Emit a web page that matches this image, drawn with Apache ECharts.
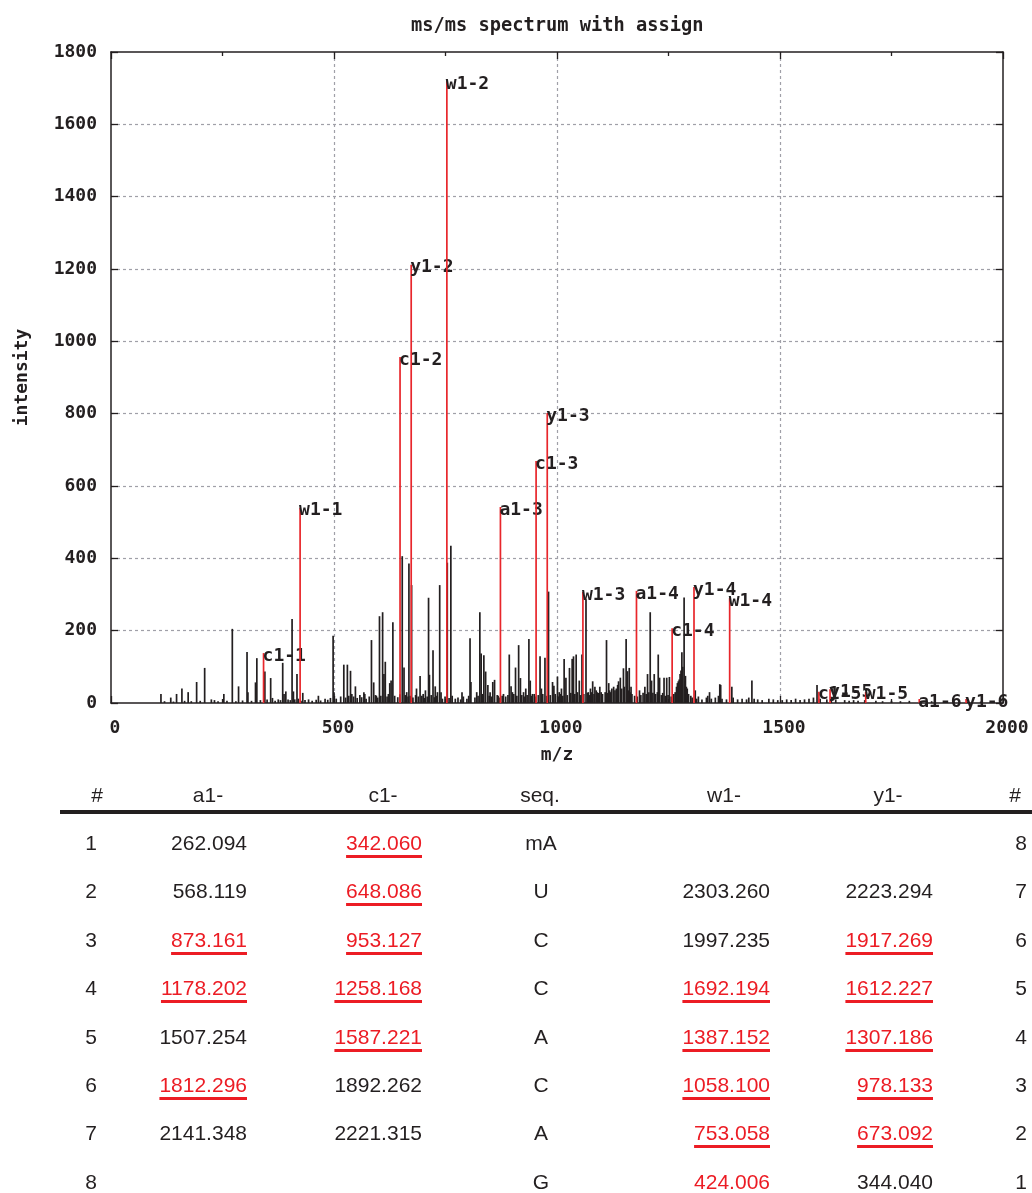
<!DOCTYPE html>
<html><head><meta charset="utf-8">
<script src="https://cdn.jsdelivr.net/npm/echarts@6/dist/echarts.min.js"></script>
<style>
html,body{margin:0;padding:0;background:#fff;width:1032px;height:1193px;overflow:hidden;}
#chart{position:absolute;left:0;top:0;width:1032px;height:770px;}
#table{position:absolute;left:0;top:0;width:1032px;height:1193px;font-family:'Liberation Sans',Arial,Helvetica,sans-serif;font-size:21px;color:#231f20;pointer-events:none;}
.c{position:absolute;line-height:24px;height:24px;white-space:nowrap;}
.red{color:#ec1c24;text-decoration:underline;text-decoration-color:#ec1c24;text-decoration-thickness:3px;text-underline-offset:5px;text-decoration-skip-ink:none;}
</style></head><body>
<div id="chart"></div><div id="table"></div>
<script>
// ---------------- DATA ----------------
const titleText = 'ms/ms spectrum with assign';
const xAxisName = 'm/z';
const yAxisName = 'intensity';

// unassigned (black) peaks, main
const mainMz = [112,134,147,159,173,192,210,225,253,272,286,305,307,324,327,345,358,362,385,388,392,406,409,417,430,465,498,500,522,530,537,540,548,558,567,569,584,589,595,602,609,612,615,625,628,632,653,657,663,668,674,685,693,700,705,712,714,722,727,732,737,740,754,762,787,805,807,820,827,830,836,840,845,850,856,860,868,880,893,897,900,907,914,918,925,930,937,940,945,962,965,973,981,990,993,1001,1005,1010,1016,1020,1028,1034,1037,1043,1050,1056,1065,1070,1075,1080,1085,1090,1096,1111,1116,1120,1130,1138,1142,1149,1155,1158,1162,1166,1185,1197,1203,1209,1212,1218,1227,1230,1240,1246,1252,1262,1272,1276,1280,1285,1288,1292,1310,1342,1365,1367,1392,1437,1583];
const mainInt = [25,15,25,40,30,58,97,10,25,205,46,141,30,57,124,87,69,14,111,25,32,232,32,80,28,20,186,30,106,106,89,25,46,22,30,25,174,57,20,240,251,80,114,55,62,223,406,98,30,386,326,40,75,25,35,291,78,146,46,30,326,30,388,435,30,179,58,30,251,137,132,87,50,30,58,64,20,25,134,46,30,98,160,69,30,40,177,62,25,129,40,125,308,58,48,73,30,40,122,70,97,122,129,134,62,134,287,30,40,60,45,30,45,174,55,30,35,60,70,96,177,88,97,45,35,45,80,251,62,80,134,70,70,70,72,25,60,80,140,292,75,40,35,30,52,50,45,62,50];

// unassigned (black) peaks, small background
const grassMz = [120,140,165,180,200,232,240,260,280,295,315,335,350,368,375,380,397,402,412,420,426,435,443,451,460,470,480,486,492,505,515,526,533,544,552,562,572,579,593,598,605,619,622,636,643,648,660,666,671,677,683,689,697,703,709,718,725,730,743,749,758,765,772,778,784,790,798,802,816,823,833,848,853,866,872,877,885,890,903,910,921,928,933,943,949,952,958,968,977,985,996,1003,1008,1013,1023,1031,1040,1046,1053,1060,1068,1073,1078,1083,1088,1093,1099,1102,1108,1113,1118,1123,1127,1133,1136,1145,1151,1160,1164,1168,1174,1180,1188,1193,1200,1206,1215,1221,1225,1234,1237,1243,1249,1256,1265,1268,1270,1274,1278,1282,1287,1290,1295,1300,1303,1313,1317,1325,1335,1338,1346,1355,1362,1370,1380,1395,1405,1415,1425,1430,1442,1450,1460,1475,1485,1495,1505,1515,1525,1535,1545,1555,1565,1575,1590,1605,1615,1625,1645,1655,1665,1675,1690,1715,1730,1750,1770,1790,1815,1840,1870,1890,1920,1950,1980];
const grassInt = [5,4,6,5,6,8,5,6,5,7,6,8,10,6,10,8,10,8,10,12,6,8,10,6,9,7,12,9,14,12,18,15,20,18,14,16,12,18,22,15,20,18,25,20,16,24,22,18,20,15,22,18,20,14,18,22,16,20,12,18,14,20,12,15,10,18,12,20,15,20,25,20,18,22,15,20,18,22,25,20,22,18,22,20,25,18,22,25,20,22,25,18,25,20,22,28,25,30,22,25,28,22,30,25,35,28,30,25,30,28,35,40,45,40,50,40,45,35,30,25,20,18,22,28,25,30,28,25,30,22,28,20,22,18,30,45,55,65,90,100,60,45,25,20,15,12,18,10,15,20,12,15,20,12,10,15,10,12,10,15,12,10,8,12,10,8,8,10,8,12,8,10,12,15,12,10,8,10,8,6,8,6,8,6,5,6,5,6,5,5,4,5,4,4,3];

// assigned (red) peaks
const assignedLabels = ['c1-1','w1-1','c1-2','y1-2','w1-2','a1-3','c1-3','y1-3','w1-3','a1-4','c1-4','y1-4','w1-4','c1-5','y1-5','w1-5','a1-6','y1-6'];
const assignedMz = [342.060,424.006,648.086,673.092,753.058,873.161,953.127,978.133,1058.100,1178.202,1258.168,1307.186,1387.152,1587.221,1612.227,1692.194,1812.296,1917.269];
const assignedInt = [138,540,957,1212,1720,542,669,802,307,310,207,321,290,31,38,31,11,11];

// table
const tableHeaders = ['#','a1-','c1-','seq.','w1-','y1-','#'];
const seqResidues = ['mA','U','C','C','A','C','A','G'];
const a1Mass = ['262.094','568.119','873.161','1178.202','1507.254','1812.296','2141.348',''];
const c1Mass = ['342.060','648.086','953.127','1258.168','1587.221','1892.262','2221.315',''];
const w1Mass = ['','2303.260','1997.235','1692.194','1387.152','1058.100','753.058','424.006'];
const y1Mass = ['','2223.294','1917.269','1612.227','1307.186','978.133','673.092','344.040'];

// ---------------- CHART ----------------
const mono = "'DejaVu Sans Mono','Liberation Mono',monospace";
const ink = '#231f20';
const red = '#e8262b';
const monoStyle = {fontFamily: mono, fontWeight: 'bold', fontSize: 18, color: ink};
const plainNum = v => String(v);

const blackData = mainMz.map((m,i)=>[m, mainInt[i]]).concat(grassMz.map((m,i)=>[m, grassInt[i]]));
const redData = assignedMz.map((m,i)=>[m, assignedInt[i], i]);

function axisCommon(){
  return {
    type: 'value',
    axisLine: {show: true, onZero: false, lineStyle: {color: ink, width: 1.5}},
    axisTick: {show: true, inside: true, length: 7, lineStyle: {color: ink, width: 1.3}},
  };
}

const chart = echarts.init(document.getElementById('chart'), null, {renderer: 'canvas'});
chart.setOption({
  animation: false,
  backgroundColor: '#fff',
  title: {text: titleText, left: 406, top: 12, textStyle: {fontFamily: mono, fontWeight: 'bold', fontSize: 18.7, color: ink}},
  grid: {left: 111, right: 29, top: 52, bottom: 67, outerBoundsMode: 'none'},
  xAxis: [
    Object.assign(axisCommon(), {
      min: 0, max: 2000, interval: 500, position: 'bottom',
      name: xAxisName, nameLocation: 'middle', nameGap: 43, nameTextStyle: monoStyle,
      minorTick: {show: true, splitNumber: 2, length: 4, lineStyle: {color: ink, width: 1.3}},
      axisLabel: Object.assign({margin: 16, padding: [0,0,0,8], formatter: plainNum}, monoStyle),
      splitLine: {show: true, showMinLine: false, showMaxLine: false, lineStyle: {color: '#a0a0a8', type: [3,3], width: 1.2}}
    }),
    Object.assign(axisCommon(), {
      min: 0, max: 2000, interval: 500, position: 'top',
      minorTick: {show: true, splitNumber: 2, length: 4, lineStyle: {color: ink, width: 1.3}},
      axisLabel: {show: false}, splitLine: {show: false}
    })
  ],
  yAxis: [
    Object.assign(axisCommon(), {
      min: 0, max: 1800, interval: 200, position: 'left',
      name: yAxisName, nameLocation: 'middle', nameGap: 80, nameTextStyle: monoStyle,
      axisLabel: Object.assign({margin: 14, formatter: plainNum}, monoStyle),
      splitLine: {show: true, showMinLine: false, showMaxLine: false, lineStyle: {color: '#a0a0a8', type: [3,3], width: 1.2}}
    }),
    Object.assign(axisCommon(), {
      min: 0, max: 1800, interval: 200, position: 'right',
      axisLabel: {show: false}, splitLine: {show: false}
    })
  ],
  series: [
    {
      type: 'custom', xAxisIndex: 0, yAxisIndex: 0, silent: true, z: 3,
      data: blackData,
      renderItem: function(params, api){
        const p0 = api.coord([api.value(0), 0]);
        const p1 = api.coord([api.value(0), api.value(1)]);
        return {type: 'line', shape: {x1: p0[0], y1: p0[1], x2: p1[0], y2: p1[1]}, style: {stroke: ink, lineWidth: 1.7}};
      }
    },
    {
      type: 'custom', xAxisIndex: 0, yAxisIndex: 0, silent: true, z: 4, clip: false,
      data: redData,
      renderItem: function(params, api){
        const p0 = api.coord([api.value(0), 0]);
        const p1 = api.coord([api.value(0), api.value(1)]);
        const lbl = assignedLabels[api.value(2)];
        return {type: 'group', children: [
          {type: 'line', shape: {x1: p0[0], y1: p0[1], x2: p1[0], y2: p1[1]}, style: {stroke: red, lineWidth: 1.7}},
          {type: 'text', x: p1[0] - 1, y: p1[1] + 3, style: {text: lbl, fill: ink, font: "bold 18px " + mono, align: 'left', verticalAlign: 'middle'}}
        ]};
      }
    }
  ]
});

// ---------------- TABLE ----------------
const tbl = document.getElementById('table');
function cell(text, x, yc, align, isRed){
  if (text === '') return;
  const d = document.createElement('div');
  d.className = 'c';
  d.style.top = (yc - 12) + 'px';
  d.style.width = '300px';
  if (align === 'right') { d.style.left = (x - 300) + 'px'; d.style.textAlign = 'right'; }
  else { d.style.left = (x - 150) + 'px'; d.style.textAlign = 'center'; }
  const s = document.createElement('span');
  s.textContent = text;
  if (isRed) s.className = 'red';
  d.appendChild(s);
  tbl.appendChild(d);
}
const headerY = 795;
const headerX = [97, 208, 383, 540, 724, 888, 1015];
tableHeaders.forEach((h,i)=>cell(h, headerX[i], headerY, 'center', false));
const rule = document.createElement('div');
rule.style.cssText = 'position:absolute;left:60px;top:810px;width:972px;height:4px;background:' + ink + ';';
tbl.appendChild(rule);
const rowY0 = 843, rowStep = 48.4;
for (let r = 0; r < 8; r++) {
  const y = rowY0 + r * rowStep;
  const n = r + 1, m = 8 - r;
  cell(String(n), 91, y, 'center', false);
  cell(a1Mass[r], 247, y, 'right', assignedLabels.indexOf('a1-' + n) >= 0);
  cell(c1Mass[r], 422, y, 'right', assignedLabels.indexOf('c1-' + n) >= 0);
  cell(seqResidues[r], 541, y, 'center', false);
  cell(w1Mass[r], 770, y, 'right', assignedLabels.indexOf('w1-' + m) >= 0);
  cell(y1Mass[r], 933, y, 'right', assignedLabels.indexOf('y1-' + m) >= 0);
  cell(String(m), 1021, y, 'center', false);
}
</script></body></html>
